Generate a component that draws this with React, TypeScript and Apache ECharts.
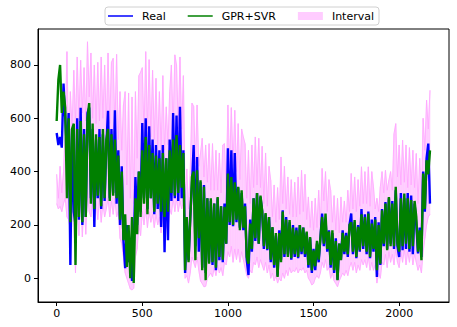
import React, { useEffect, useRef } from "react";
import * as echarts from "echarts";

const STEP = 10;

const real = [545,500,530,490,730,600,480,620,50,560,
250,200,600,220,640,200,560,230,620,640,
300,560,192,520,300,560,260,540,290,500,
628,300,560,320,630,280,480,200,420,140,
38,200,60,150,-10,100,380,200,400,250,
582,300,600,260,570,300,520,240,500,260,
480,192,500,98,450,143,520,290,620,300,
610,290,643,300,480,20,200,68,230,350,
500,120,455,100,360,40,350,20,300,60,
290,50,280,30,300,68,270,60,280,130,
488,200,480,195,470,210,340,190,320,180,
280,70,12,220,100,300,140,320,130,305,
250,110,240,105,230,60,190,40,160,10,
180,70,255,80,230,90,210,70,200,80,
190,75,200,90,190,80,170,40,150,20,
110,30,130,60,150,243,120,220,100,180,
40,170,20,150,-5,130,70,180,90,170,
80,200,243,90,210,75,200,100,260,110,
240,90,250,75,220,100,230,5,210,50,
260,120,286,110,300,130,290,110,330,120,
80,320,105,300,110,320,100,310,90,280,
200,93,190,80,400,250,450,505,280];

const pred = [590,745,800,620,700,640,300,600,210,560,
580,50,560,230,590,210,540,230,600,657,
280,580,260,540,310,530,270,560,300,520,
560,290,540,310,520,300,460,220,400,143,
240,42,200,0,230,-18,300,165,400,230,
480,280,530,240,500,300,470,250,460,280,
450,250,470,230,450,250,480,320,520,310,
537,320,500,340,470,30,230,60,220,380,
400,68,405,150,368,30,343,-7,300,55,
300,60,280,40,305,80,270,70,268,130,
393,210,380,200,360,220,343,180,330,190,
270,80,55,205,110,300,150,320,130,310,
255,120,245,110,230,70,192,50,170,5,
170,60,250,90,220,80,218,75,190,90,
180,80,200,100,190,90,175,50,155,30,
105,45,140,70,150,230,130,243,110,175,
50,180,30,140,-7,130,68,170,100,160,
90,200,210,100,218,80,193,105,240,120,
230,100,243,80,205,110,220,30,200,55,
255,130,280,105,305,120,280,120,343,130,
100,300,120,318,130,300,110,293,120,290,
230,100,180,68,393,260,443,390,480];

const upper = [390,300,420,320,400,560,850,480,700,560,
780,580,830,600,818,620,790,590,887,680,
845,600,800,580,810,590,830,600,800,570,
845,580,810,825,560,840,520,700,480,650,
700,350,695,300,680,280,700,450,760,773,
790,540,850,560,820,530,780,520,750,500,
700,480,760,480,643,500,700,800,560,838,
800,560,830,560,760,300,410,260,405,657,
645,430,650,420,470,525,380,500,360,505,
330,505,330,480,330,470,320,500,505,330,
650,420,640,420,630,400,580,370,560,530,
505,300,480,280,500,340,530,350,525,340,
495,280,470,270,420,368,230,350,210,340,
220,455,280,420,260,380,240,370,230,360,
230,380,240,405,250,390,220,305,190,290,
180,300,190,330,200,412,290,400,250,370,
330,210,310,180,300,170,305,210,290,210,
330,250,393,260,380,250,370,270,418,280,
400,280,418,270,400,343,260,300,250,343,
400,320,405,330,368,400,330,543,580,380,
500,350,518,360,500,340,490,350,480,340,
468,280,450,300,600,480,668,560,705];

const lower = [280,260,270,250,280,300,230,220,180,250,
200,20,300,160,320,155,300,165,330,250,
230,300,200,290,220,300,210,280,230,260,
300,230,290,240,300,230,250,150,130,80,
20,0,-20,-40,-44,-38,80,110,200,160,
250,200,260,190,250,210,240,190,240,200,
230,170,230,150,200,180,260,240,300,250,
300,250,290,260,280,0,10,-18,20,80,
60,40,80,30,-10,-20,-32,-30,0,10,
20,5,40,10,50,20,40,10,60,50,
100,80,120,60,110,70,110,60,100,70,
40,10,0,30,20,60,50,80,40,70,
50,30,60,20,50,0,20,-10,10,-18,
0,-10,20,0,30,10,40,20,30,25,
40,20,35,30,40,20,30,0,-10,-25,
-20,0,10,0,20,60,40,70,30,40,
0,20,-10,-20,-32,-10,5,20,10,30,
10,40,60,30,60,20,50,30,70,50,
70,40,80,30,60,30,50,-18,20,0,
60,50,90,40,100,60,90,50,110,60,
40,100,60,110,50,100,60,110,50,90,
60,30,50,20,100,150,200,230,240];

const X_TICKS = [0, 500, 1000, 1500, 2000];
const Y_TICKS = [0, 200, 400, 600, 800];
const LEGEND_NAMES = ["Real", "GPR+SVR", "Interval"];

const FONT = "DejaVu Sans";

export default function App() {
  const ref = useRef<HTMLDivElement>(null);
  useEffect(() => {
    if (!ref.current) return;
    const chart = echarts.init(ref.current, null, { renderer: "svg" });
    const pair = (arr: number[]) => arr.map((v, i) => [i * STEP, v]);
    const segs: number[][] = [];
    for (let i = 0; i < upper.length - 1; i++) {
      segs.push([i * STEP, upper[i], lower[i], (i + 1) * STEP, upper[i + 1], lower[i + 1]]);
    }
    const pinkEdge = "#ffa6ff";
    const pinkFill = "#ffccff";
    chart.setOption({
      animation: false,
      backgroundColor: "#ffffff",
      textStyle: { fontFamily: FONT },
      grid: {
        left: 38,
        right: 8,
        top: 29,
        bottom: 25,
        show: true,
        borderColor: "#000",
        borderWidth: 1,
        backgroundColor: "transparent",
      },
      legend: {
        left: 105,
        top: 7,
        itemGap: 22,
        itemWidth: 25,
        itemHeight: 8,
        padding: [3, 5, 3, 3],
        borderColor: "#d0d0d0",
        borderWidth: 1,
        borderRadius: 3,
        backgroundColor: "#fff",
        textStyle: {
          fontFamily: FONT,
          fontSize: 11,
          color: "#000",
          padding: [0, 0, 0, 4],
          lineHeight: 12,
        },
        data: [
          { name: LEGEND_NAMES[0], icon: "path://M0,0H25V1.5H0Z", itemStyle: { color: "#0000ff", borderWidth: 0 } },
          { name: LEGEND_NAMES[1], icon: "path://M0,0H25V1.5H0Z", itemStyle: { color: "#008000", borderWidth: 0 } },
          { name: LEGEND_NAMES[2], icon: "rect", itemStyle: { color: pinkFill, borderWidth: 0 } },
        ],
      },
      xAxis: {
        type: "value",
        min: -109,
        max: 2291,
        splitLine: { show: false },
        axisLine: { show: true, onZero: false, lineStyle: { color: "#000", width: 1 } },
        axisTick: { show: true, length: 4, lineStyle: { color: "#000" }, customValues: X_TICKS },
        axisLabel: {
          customValues: X_TICKS,
          formatter: (v: number) => String(v),
          color: "#000",
          fontSize: 11,
          margin: 6,
          fontFamily: FONT,
        },
      },
      yAxis: {
        type: "value",
        min: -89,
        max: 935,
        splitLine: { show: false },
        axisLine: { show: true, onZero: false, lineStyle: { color: "#000", width: 1 } },
        axisTick: { show: true, length: 4, lineStyle: { color: "#000" }, customValues: Y_TICKS },
        axisLabel: {
          customValues: Y_TICKS,
          formatter: (v: number) => String(v),
          color: "#000",
          fontSize: 11,
          margin: 7,
          fontFamily: FONT,
        },
      },
      series: [
        {
          name: LEGEND_NAMES[2],
          type: "custom",
          data: segs,
          encode: { x: [0, 3], y: [1, 2, 4, 5] },
          clip: true,
          silent: true,
          itemStyle: { color: pinkFill },
          renderItem: (params: any, api: any) => {
            const p1 = api.coord([api.value(0), api.value(1)]);
            const p2 = api.coord([api.value(3), api.value(4)]);
            const p3 = api.coord([api.value(3), api.value(5)]);
            const p4 = api.coord([api.value(0), api.value(2)]);
            return {
              type: "polygon",
              shape: { points: [p1, p2, p3, p4] },
              style: { fill: pinkFill, stroke: pinkFill, lineWidth: 0.6 },
            };
          },
          z: 1,
        },
        {
          name: "upperEdge",
          type: "line",
          data: pair(upper),
          symbol: "none",
          silent: true,
          lineStyle: { color: pinkEdge, width: 0.8 },
          z: 1,
        },
        {
          name: "lowerEdge",
          type: "line",
          data: pair(lower),
          symbol: "none",
          silent: true,
          lineStyle: { color: pinkEdge, width: 0.8 },
          z: 1,
        },
        {
          name: LEGEND_NAMES[0],
          type: "line",
          data: pair(real),
          symbol: "none",
          lineStyle: { color: "#0000ff", width: 2.4 },
          itemStyle: { color: "#0000ff" },
          z: 2,
        },
        {
          name: LEGEND_NAMES[1],
          type: "line",
          data: pair(pred),
          symbol: "none",
          lineStyle: { color: "#008000", width: 2.4 },
          itemStyle: { color: "#008000" },
          z: 3,
        },
      ],
    });
    return () => chart.dispose();
  }, []);
  return (
    <div
      ref={ref}
      style={{ position: "fixed", left: 0, top: 0, width: 457, height: 327, background: "#fff" }}
    />
  );
}
